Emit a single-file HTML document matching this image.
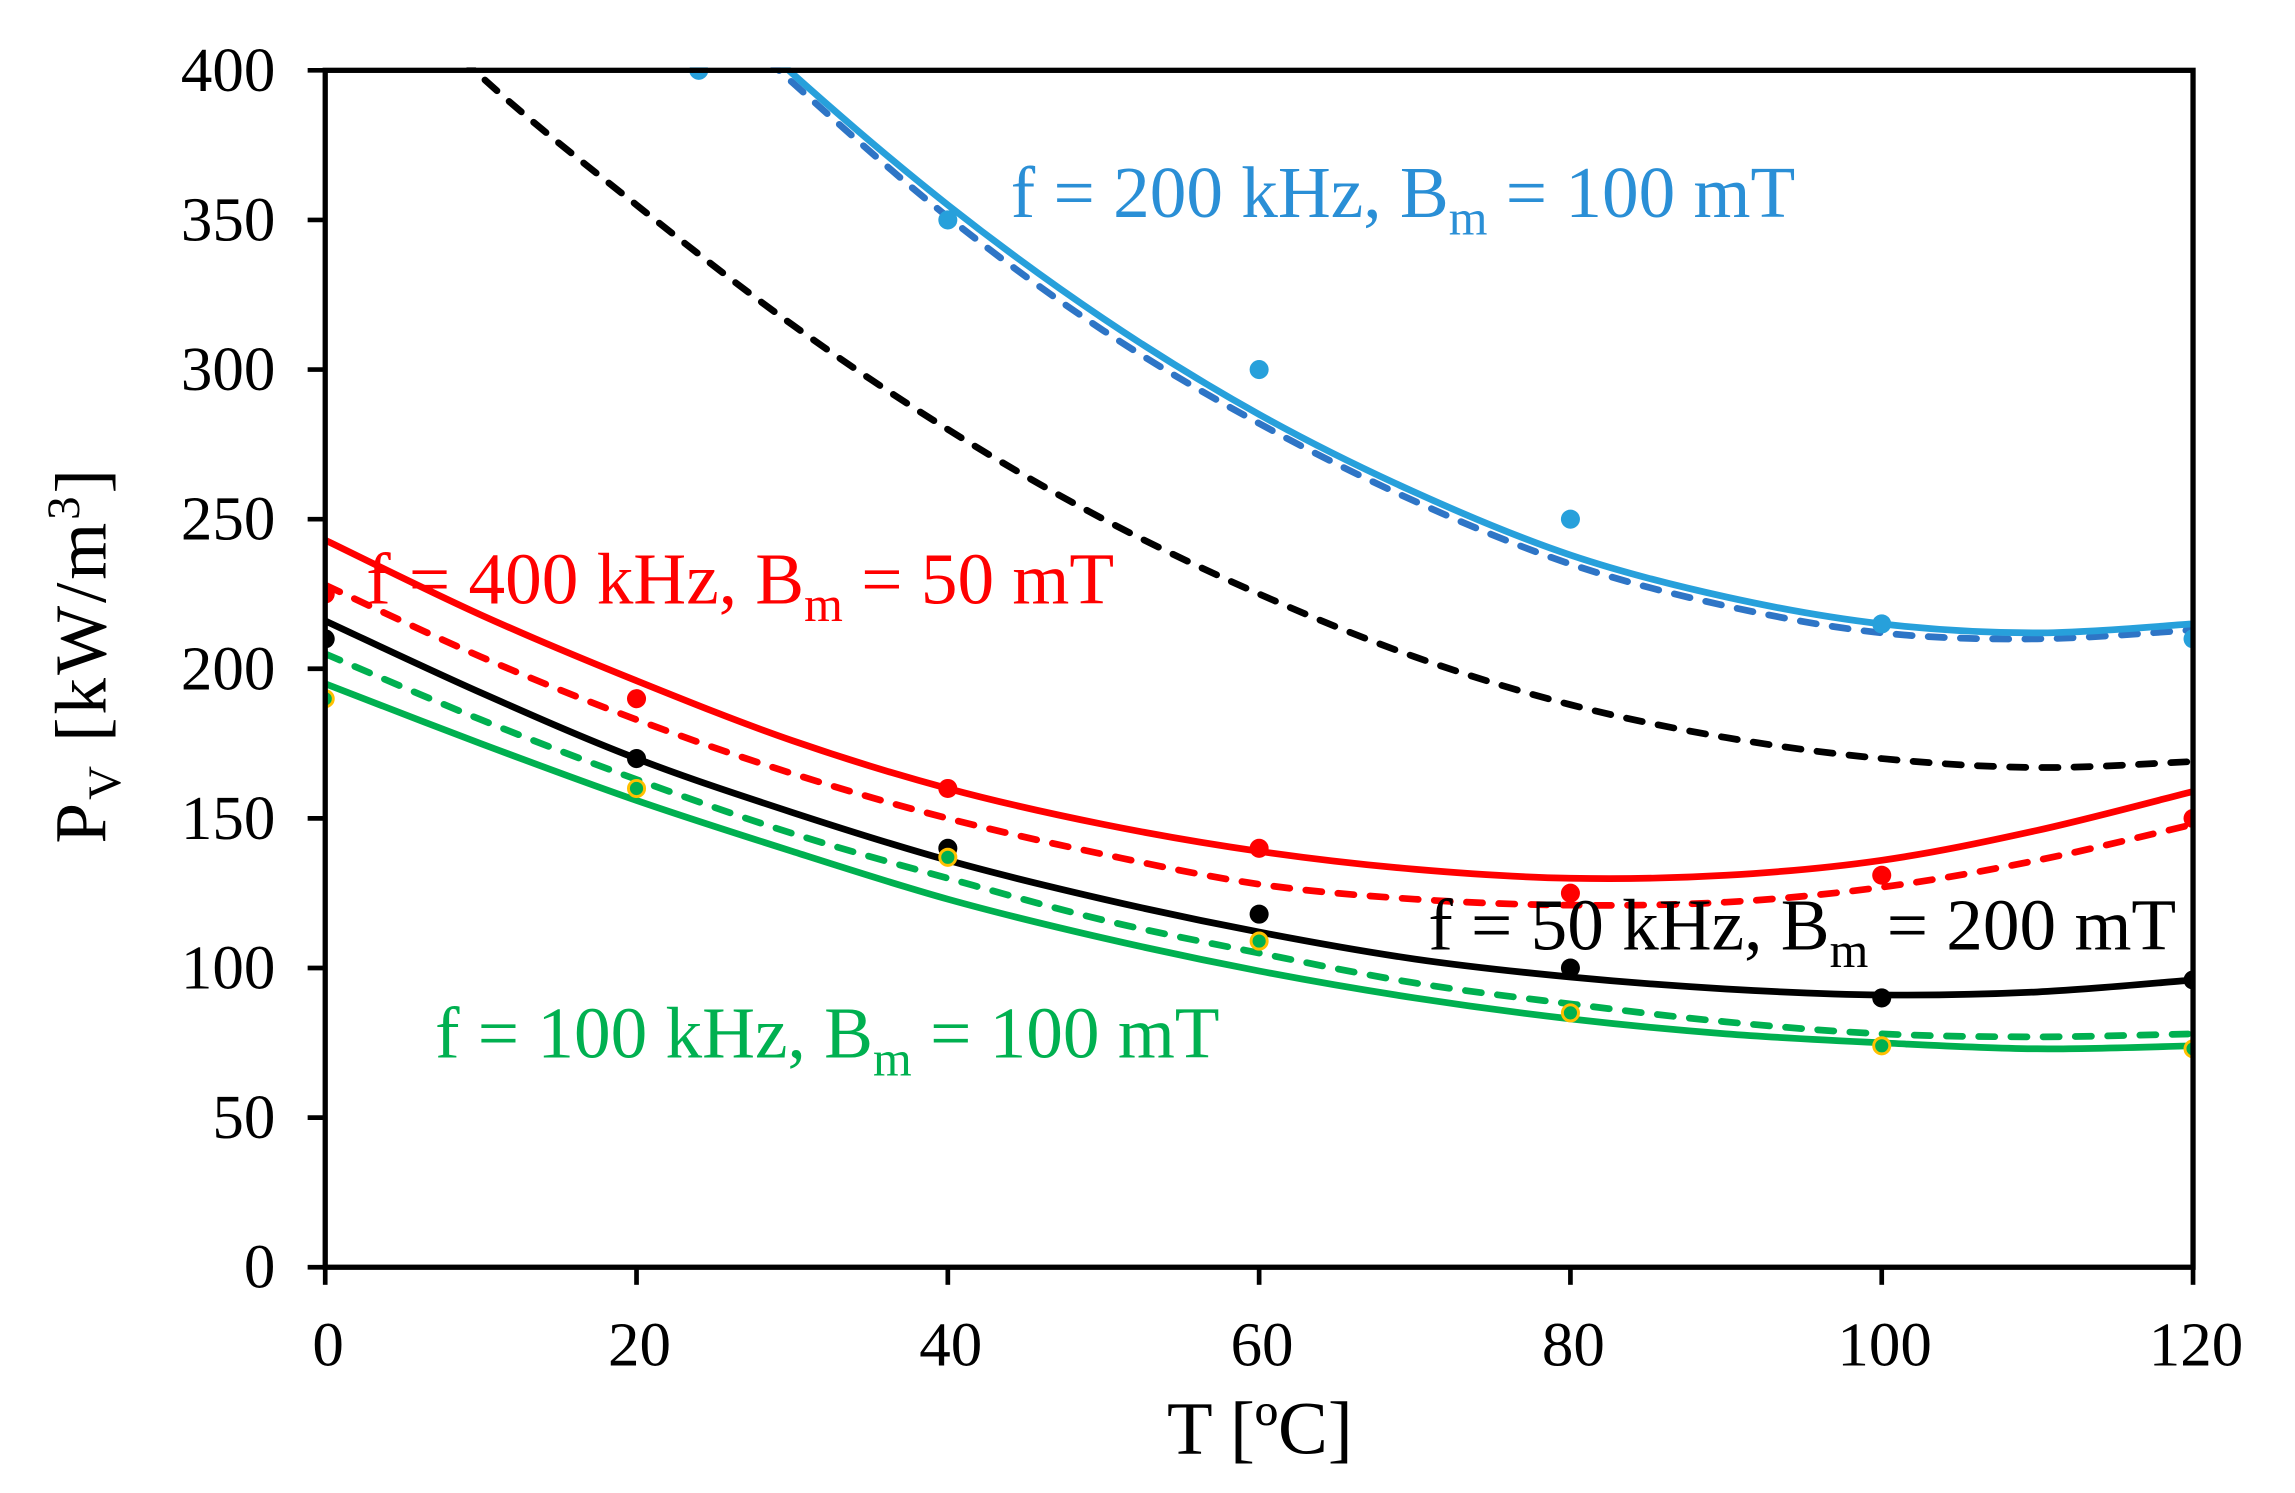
<!DOCTYPE html>
<html><head><meta charset="utf-8"><style>
html,body{margin:0;padding:0;background:#fff;}
svg{display:block;}
text{font-family:"Liberation Serif",serif;}
</style></head><body>
<svg id="chart" width="2295" height="1493" viewBox="0 0 1566.6 1019.1" preserveAspectRatio="none" xmlns="http://www.w3.org/2000/svg">
<defs><clipPath id="clip"><rect x="222" y="46" width="1276" height="821"/></clipPath></defs>
<g id="marks" clip-path="url(#clip)"></g>
<g id="axes"></g>
<text x="860" y="992" font-size="51" text-anchor="middle">T [ºC]</text>
<text transform="translate(72,447) rotate(-90)" font-size="50" text-anchor="middle" letter-spacing="2">P<tspan font-size="32" dy="10">V</tspan><tspan dy="-10"> [kW/m</tspan><tspan font-size="32" dy="-18">3</tspan><tspan dy="18">]</tspan></text>
<text x="690" y="148" font-size="50" fill="#2a8fd6">f = 200 kHz, B<tspan font-size="34" dy="12">m</tspan><tspan dy="-12"> = 100 mT</tspan></text>
<text x="250" y="412" font-size="50" fill="#ff0000">f = 400 kHz, B<tspan font-size="34" dy="12">m</tspan><tspan dy="-12"> = 50 mT</tspan></text>
<text x="975" y="648" font-size="50" fill="#000">f = 50 kHz, B<tspan font-size="34" dy="12">m</tspan><tspan dy="-12"> = 200 mT</tspan></text>
<text x="297" y="722" font-size="50" fill="#00b050">f = 100 kHz, B<tspan font-size="34" dy="12">m</tspan><tspan dy="-12"> = 100 mT</tspan></text>
</svg>
<script>
const xTicks = [0,20,40,60,80,100,120];
const yTicks = [0,50,100,150,200,250,300,350,400];
const curveT = [0,10,20,30,40,50,60,70,80,90,100,110,120];
const blueFit = [565,504,448,399,355,317,285,259,238,224,215,212,215];
const blueDash = [560,500,444,396,351,313,282,256,235,221,212,210,213];
const blackDash = [450,398,355,315,280,250,225,204,188,177,170,167,169];
const redFit = [243,218,196,176,160,148,139,133,130,131,136,146,159];
const redDash = [228,204,183,165,150,138,128,123,121,122,127,136,148];
const blackFit = [216,192,170,152,136,123,112,103,97,93,91,92,96];
const greenFit = [195,175,156,139,123,110,99,90,83,78,75,73,74];
const greenDash = [205,183,163,145,130,116,105,95,88,82,78,77,78];
const blueDotT = [24,40,60,80,100,120];
const blueDots = [400,350,300,250,215,210];
const dotT = [0,20,40,60,80,100,120];
const redDots = [225,190,160,140,125,131,150];
const blackDots = [210,170,140,118,100,90,96];
const greenDots = [190,160,137,109,85,74,73];

const X0=222,X1=1497,Y0=865,Y1=48;
function sx(t){return X0+(t-0)/(120-0)*(X1-X0);}
function sy(v){return Y0-(v-0)/(400-0)*(Y0-Y1);}
const NS='http://www.w3.org/2000/svg';
const marks=document.getElementById('marks');
const axes=document.getElementById('axes');
function el(tag,attrs,parent){const e=document.createElementNS(NS,tag);for(const k in attrs)e.setAttribute(k,attrs[k]);parent.appendChild(e);return e;}
function pathD(ts,vs){
  const p=ts.map((t,i)=>[sx(t),sy(vs[i])]);
  let d='M'+p[0][0]+','+p[0][1];
  for(let i=0;i<p.length-1;i++){
    const p0=p[i-1]||p[i],p1=p[i],p2=p[i+1],p3=p[i+2]||p2;
    const c1x=p1[0]+(p2[0]-p0[0])/6,c1y=p1[1]+(p2[1]-p0[1])/6;
    const c2x=p2[0]-(p3[0]-p1[0])/6,c2y=p2[1]-(p3[1]-p1[1])/6;
    d+=' C'+c1x+','+c1y+' '+c2x+','+c2y+' '+p2[0]+','+p2[1];
  }
  return d;
}
function curve(name,vs,color,dash){
  const e=el('path',{d:pathD(curveT,vs),fill:'none',stroke:color,'stroke-width':4.6,'stroke-linecap':dash?'round':'butt','stroke-dasharray':dash?'11,11':'none'},marks);
  
  
}
function dots(name,ts,vs,fill,stroke){
  ts.forEach((t,i)=>{
    const c=el('circle',{cx:sx(t),cy:sy(vs[i]),r:stroke?5.5:6.5,fill:fill,stroke:stroke||'none','stroke-width':2},marks);
    
    
  });
}
curve('black-dashed-curve',blackDash,'#000',true);
curve('blue-dashed-curve',blueDash,'#2e75c6',true);
curve('blue-fit-curve',blueFit,'#27a0db',false);
curve('red-dashed-curve',redDash,'#ff0000',true);
curve('red-fit-curve',redFit,'#ff0000',false);
curve('green-dashed-curve',greenDash,'#00b050',true);
curve('green-fit-curve',greenFit,'#00b050',false);
curve('black-fit-curve',blackFit,'#000',false);
dots('blue-data-point',blueDotT,blueDots,'#27a0db');
dots('red-data-point',dotT,redDots,'#ff0000');
dots('black-data-point',dotT,blackDots,'#000');
dots('green-data-point',dotT,greenDots,'#00b050','#ffc000');

const fr=el('rect',{x:X0,y:Y1,width:X1-X0,height:Y0-Y1,fill:'none',stroke:'#000','stroke-width':3.6},axes);


yTicks.forEach(v=>{
  const l=el('line',{x1:X0-12,x2:X0,y1:sy(v),y2:sy(v),stroke:'#000','stroke-width':3.2},axes);
  
  
  const t=el('text',{x:188,y:sy(v)+14,'font-size':43,'text-anchor':'end'},axes);
  t.textContent=v;
  
  
});
xTicks.forEach(v=>{
  const l=el('line',{x1:sx(v),x2:sx(v),y1:Y0,y2:Y0+12,stroke:'#000','stroke-width':3.2},axes);
  
  
  const t=el('text',{x:sx(v)+2,y:932,'font-size':43,'text-anchor':'middle'},axes);
  t.textContent=v;
  
  
});
</script>
</body></html>
